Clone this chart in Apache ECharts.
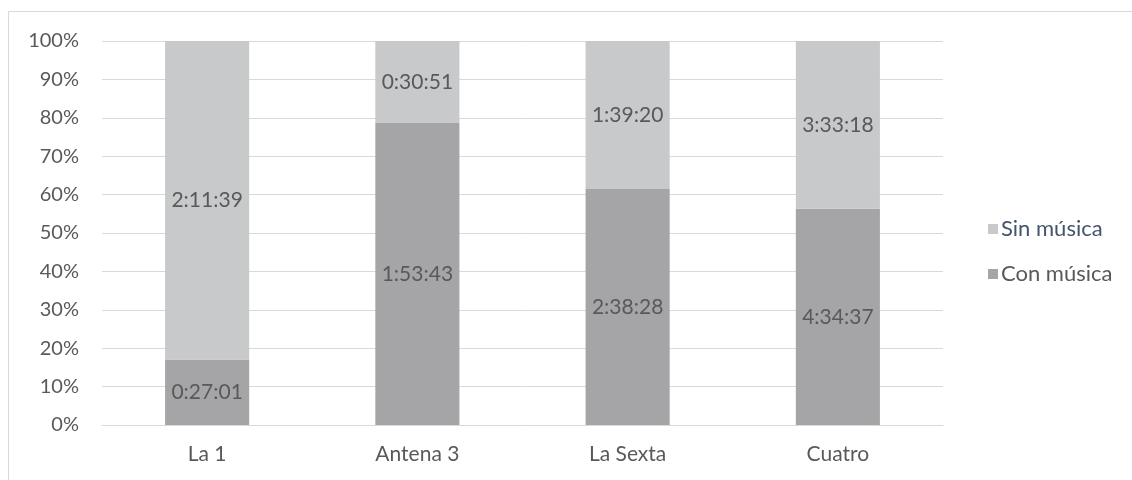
<!DOCTYPE html>
<html>
<head>
<meta charset="utf-8">
<script src="https://cdn.jsdelivr.net/npm/echarts@6/dist/echarts.min.js"></script>
<style>
  html, body { margin: 0; padding: 0; background: #fff; }
  #chart { width: 1132px; height: 480px; }
</style>
</head>
<body>
<div id="chart"></div>
<script>
// 数据
const categories = ['La 1', 'Antena 3', 'La Sexta', 'Cuatro']
const conMusica = ['0:27:01', '1:53:43', '2:38:28', '4:34:37']
const sinMusica = ['2:11:39', '0:30:51', '1:39:20', '3:33:18']
const yTicks = [0, 10, 20, 30, 40, 50, 60, 70, 80, 90, 100]

// h:mm:ss -> 秒
const toSec = (t) => {
  const p = t.split(':').map(Number)
  return p[0] * 3600 + p[1] * 60 + p[2]
}

// 100% 堆叠百分比
const pct = (arr, i) => {
  const total = toSec(conMusica[i]) + toSec(sinMusica[i])
  return (toSec(arr[i]) / total) * 100
}

const fontFamily = 'Lato, "Open Sans", sans-serif'
const labelColor = '#595959'

const makeSeries = (name, arr, color) => ({
  name: name,
  type: 'bar',
  stack: 'total',
  barWidth: '40%',
  itemStyle: { color: color },
  label: {
    show: true,
    position: 'inside',
    color: labelColor,
    fontSize: 21,
    fontFamily: fontFamily,
    formatter: (p) => arr[p.dataIndex]
  },
  data: categories.map((c, i) => pct(arr, i))
})

const option = {
  animation: false,
  graphic: [
    {
      type: 'rect',
      shape: { x: 8.5, y: 11.5, width: 1140, height: 480 },
      style: { fill: 'none', stroke: '#d9d9d9', lineWidth: 1 }
    }
  ],
  grid: {
    left: 102,
    right: 189,
    top: 41,
    bottom: 55
  },
  legend: {
    orient: 'vertical',
    left: 983,
    top: 213,
    itemWidth: 10,
    itemHeight: 10,
    itemGap: 23,
    itemStyle: { borderWidth: 0 },
    icon: 'rect',
    textStyle: { fontSize: 22, fontFamily: fontFamily, color: labelColor, padding: [0, 0, 0, -2] },
    data: [
      { name: 'Sin música', textStyle: { color: '#44546a' } },
      { name: 'Con música' }
    ]
  },
  xAxis: {
    type: 'category',
    data: categories,
    axisTick: { show: false },
    axisLine: { lineStyle: { color: '#d9d9d9' } },
    axisLabel: { color: labelColor, fontSize: 21, fontFamily: fontFamily, margin: 19 }
  },
  yAxis: {
    type: 'value',
    min: yTicks[0],
    max: yTicks[yTicks.length - 1],
    interval: 10,
    axisLabel: {
      color: labelColor,
      fontSize: 20,
      fontFamily: fontFamily,
      margin: 23,
      formatter: '{value}%'
    },
    splitLine: { lineStyle: { color: '#d9d9d9' } }
  },
  series: [
    makeSeries('Con música', conMusica, '#a5a5a7'),
    makeSeries('Sin música', sinMusica, '#c8c9ca')
  ]
}

const chart = echarts.init(document.getElementById('chart'))
chart.setOption(option)
</script>
</body>
</html>
